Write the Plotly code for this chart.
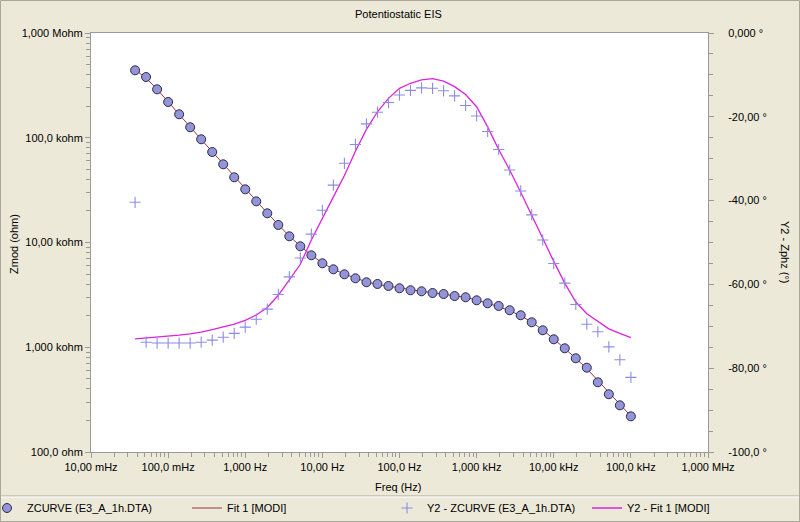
import plotly.graph_objects as go

# ---------------- data ----------------
freq_hz = [0.03728, 0.05179, 0.07197,
           0.1, 0.1389, 0.1931, 0.2683, 0.3728, 0.5179, 0.7197,
           1.0, 1.389, 1.931, 2.683, 3.728, 5.179, 7.197,
           10.0, 13.89, 19.31, 26.83, 37.28, 51.79, 71.97,
           100.0, 138.9, 193.1, 268.3, 372.8, 517.9, 719.7,
           1000.0, 1389.0, 1931.0, 2683.0, 3728.0, 5179.0, 7197.0,
           10000.0, 13890.0, 19310.0, 26830.0, 37280.0, 51790.0, 71970.0,
           100000.0]

zmod_ohm = [440500, 380000, 290000, 219500, 167500, 126000, 96700, 73100, 55800, 41900,
            32200, 24700, 19000, 14700, 11460, 9200, 7550, 6330, 5550, 4970,
            4550, 4170, 4020, 3845, 3656, 3500, 3420, 3296, 3222, 3083,
            3000, 2806, 2628, 2478, 2256, 2020, 1731, 1452, 1191, 977,
            785, 638, 463, 356, 279, 219]

zmod_fit_ohm = [445000, 372000, 290000, 222000, 168000, 127000, 96500, 73500, 56000, 42200,
                32300, 24800, 19100, 14800, 11500, 9250, 7580, 6380, 5560, 4990,
                4560, 4210, 3980, 3820, 3660, 3530, 3420, 3320, 3220, 3110,
                2990, 2830, 2640, 2440, 2230, 2000, 1740, 1460, 1200, 975,
                785, 625, 480, 370, 285, 220]

zphz_deg = [-40.4, -73.8, -74.0, -74.0, -74.0, -74.0, -73.8, -73.3, -72.6, -71.7,
            -70.2, -68.3, -65.9, -62.4, -58.2, -53.7, -48.0, -42.3, -36.3, -31.1,
            -26.6, -21.7, -18.9, -16.6, -14.8, -13.7, -13.1, -13.2, -13.8, -15.0,
            -17.3, -19.8, -23.5, -27.8, -32.7, -37.7, -43.4, -49.4, -55.0, -59.7,
            -64.8, -69.5, -71.3, -74.9, -78.0, -82.2]

zphz_fit_deg = [-73.0, -72.8, -72.6, -72.4, -72.1, -71.8, -71.4, -70.8, -70.2, -69.5,
                -68.6, -67.3, -65.5, -62.6, -58.9, -55.2, -49.4, -44.1, -39.1, -34.0,
                -28.2, -23.0, -18.8, -15.6, -13.2, -12.0, -11.2, -10.9, -11.5, -12.8,
                -14.7, -17.6, -22.4, -27.8, -32.7, -38.0, -43.6, -49.3, -54.5, -59.7,
                -64.2, -67.0, -68.9, -70.6, -71.7, -72.7]

x_tick_vals = [0.01, 0.1, 1, 10, 100, 1e3, 1e4, 1e5, 1e6]
x_tick_text = ["10,00 mHz", "100,0 mHz", "1,000 Hz", "10,00 Hz", "100,0 Hz",
               "1,000 kHz", "10,00 kHz", "100,0 kHz", "1,000 MHz"]
z_tick_vals = [1e2, 1e3, 1e4, 1e5, 1e6]
z_tick_text = ["100,0 ohm", "1,000 kohm", "10,00 kohm", "100,0 kohm", "1,000 Mohm"]
phz_tick_vals = [-100, -80, -60, -40, -20, 0]
phz_tick_text = ["-100,0 °", "-80,00 °", "-60,00 °", "-40,00 °", "-20,00 °", "0,000 °"]

series_names = ["ZCURVE (E3_A_1h.DTA)", "Fit 1 [MODI]",
                "Y2 - ZCURVE (E3_A_1h.DTA)", "Y2 - Fit 1 [MODI]"]

# ---------------- layout geometry ----------------
W, H = 800, 522
L, R, T, B = 91, 92, 33, 70
PW, PH = W - L - R, H - T - B


def px_x(p):
    return (p - L) / PW


def px_y(p):
    return (H - B - p) / PH


FONT = "Liberation Sans, Arial, sans-serif"
BG = "#ECE9D8"
AX = "#9A9A9A"

fig = go.Figure()

# fit lines drawn first so data markers sit on top
fig.add_trace(go.Scatter(x=freq_hz, y=zmod_fit_ohm, name=series_names[1], mode="lines",
                         line=dict(color="#9B3344", width=1), legend="legend", legendrank=2))
fig.add_trace(go.Scatter(x=freq_hz, y=zphz_fit_deg, name=series_names[3], mode="lines",
                         yaxis="y2", line=dict(color="#DD22DD", width=1.3),
                         legend="legend2", legendrank=4))
fig.add_trace(go.Scatter(x=freq_hz, y=zmod_ohm, name=series_names[0], mode="markers",
                         marker=dict(symbol="circle", size=9, color="#9494D8",
                                     line=dict(color="#2A2A48", width=1)),
                         legend="legend", legendrank=1))
fig.add_trace(go.Scatter(x=freq_hz, y=zphz_deg, name=series_names[2], mode="markers",
                         yaxis="y2",
                         marker=dict(symbol="cross-thin", size=8, color="#8C8CE8",
                                     line=dict(color="#8C8CE8", width=1.1)),
                         legend="legend2", legendrank=3))

log_minor = [m * 10 ** e for e in range(-2, 6) for m in range(2, 10)]
z_minor = [m * 10 ** e for e in range(2, 6) for m in range(2, 10)]

legend_common = dict(orientation="h", xanchor="left", y=px_y(508), yanchor="middle",
                     entrywidth=155, entrywidthmode="pixels", bgcolor="rgba(0,0,0,0)",
                     font=dict(family=FONT, size=11, color="black"), itemwidth=30,
                     traceorder="normal")

fig.update_layout(
    width=W, height=H,
    margin=dict(l=L, r=R, t=T, b=B, autoexpand=False),
    paper_bgcolor=BG, plot_bgcolor="white",
    font=dict(family=FONT, size=11, color="black"),
    showlegend=True,
    legend=dict(x=px_x(-13), **legend_common),
    legend2=dict(x=px_x(387), **legend_common),
    xaxis=dict(type="log", range=[-2, 6], tickvals=x_tick_vals, ticktext=x_tick_text,
               ticks="outside", ticklen=5, tickcolor=AX, showgrid=False, zeroline=False,
               showline=True, linecolor=AX, linewidth=1, mirror=True,
               minor=dict(tickvals=log_minor, ticks="outside", ticklen=4, tickcolor=AX,
                          showgrid=False),
               tickfont=dict(size=11)),
    yaxis=dict(type="log", range=[2, 6], tickvals=z_tick_vals, ticktext=z_tick_text,
               ticks="outside", ticklen=5, tickcolor=AX, showgrid=False, zeroline=False,
               showline=True, linecolor=AX, linewidth=1,
               minor=dict(tickvals=z_minor, ticks="outside", ticklen=4, tickcolor=AX,
                          showgrid=False),
               tickfont=dict(size=11)),
    yaxis2=dict(overlaying="y", side="right", range=[-100, 0], tickvals=phz_tick_vals,
                ticktext=phz_tick_text, ticks="outside", ticklen=5, tickcolor=AX,
                showgrid=False, zeroline=False, showline=True, linecolor=AX, linewidth=1,
                minor=dict(dtick=5, ticks="outside", ticklen=4, tickcolor=AX),
                ticklabelstandoff=12, tickfont=dict(size=11)),
)

annotations = [
    dict(text="Potentiostatic EIS", x=px_x(398), y=px_y(14)),
    dict(text="Freq (Hz)", x=px_x(398), y=px_y(487)),
    dict(text="Zmod (ohm)", x=px_x(14), y=px_y(244), textangle=-90),
    dict(text="Y2 - Zphz (°)", x=px_x(785), y=px_y(252), textangle=90),
]
for a in annotations:
    a.update(xref="paper", yref="paper", showarrow=False, xanchor="center", yanchor="middle",
             font=dict(family=FONT, size=11, color="black"))
fig.update_layout(annotations=annotations)

shapes = [
    # outer frame
    dict(type="rect", x0=px_x(0.5), x1=px_x(799.5), y0=px_y(521.5), y1=px_y(0.5),
         line=dict(color="#ACA899", width=1)),
    # legend separator
    dict(type="line", x0=px_x(1), x1=px_x(799), y0=px_y(496), y1=px_y(496),
         line=dict(color="#ACA899", width=1)),
    dict(type="line", x0=px_x(1), x1=px_x(799), y0=px_y(497), y1=px_y(497),
         line=dict(color="#FFFFFF", width=1)),
]
for s in shapes:
    s.update(xref="paper", yref="paper", layer="above")
fig.update_layout(shapes=shapes)

fig.write_html("out.html", config={"displayModeBar": False},
               post_script="document.body.style.margin='0';document.body.style.overflow='hidden';")
